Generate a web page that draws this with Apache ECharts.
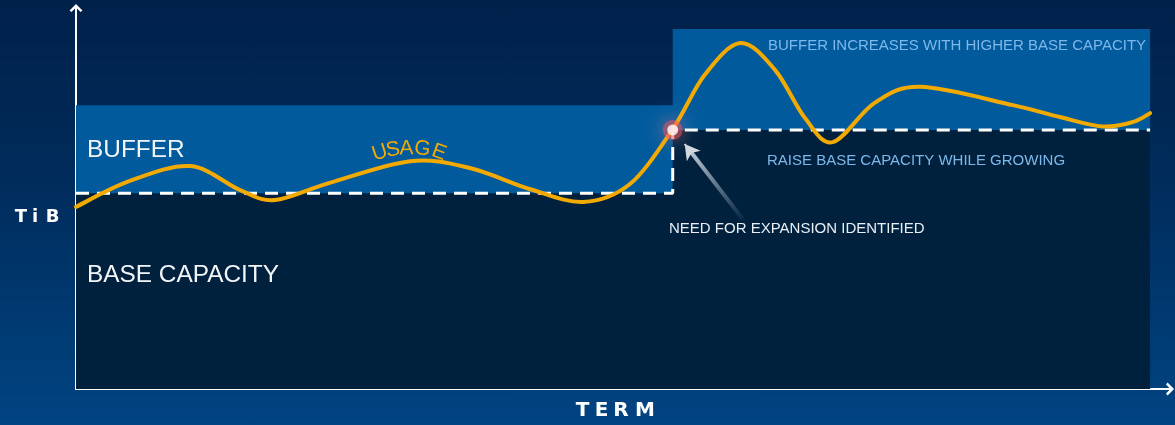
<!DOCTYPE html>
<html>
<head>
<meta charset="utf-8">
<script src="https://cdn.jsdelivr.net/npm/echarts@6/dist/echarts.min.js"></script>
<style>
  html, body { margin: 0; padding: 0; }
  #chart { width: 1175px; height: 425px;
    background: linear-gradient(to bottom, #00214a 0%, #002b5a 40%, #004482 100%); }
</style>
</head>
<body>
<div id="chart"></div>
<script>
// ---- data ----
const usageTerm  = [0, 5.4, 11.5, 16.5, 20.0, 25.5, 33.6, 39.6, 45.6, 51.0, 55.7, 60, 63.2, 66.8, 70.3, 73.3, 76.1, 80.3, 84.9, 94.2, 98.9, 103.2, 106.3, 108];
const usageTiB   = [47.8, 54.6, 58.5, 52.2, 49.6, 54.1, 59.8, 58.0, 52.5, 49.1, 53.8, 68.2, 82.4, 90.8, 83.7, 71.1, 64.8, 75.1, 79.3, 74.5, 71.4, 68.9, 70.1, 72.4];
const stepTerm   = [0, 60, 60, 108];
const baseTiB    = [51.4, 51.4, 68.0, 68.0];
const bufferTiB  = [74.5, 74.5, 94.5, 94.5];
const expansionPoint = [60, 68.0];
const arrowTail  = [67.1, 44.4];
const arrowShaftEnd = [61.5, 63.3];
const arrowHeadStart = [61.9, 61.9];
const arrowHeadEnd = [61.2, 64.3];
const xMax = 110, yMax = 100;

const pairs = (xs, ys) => xs.map((x, i) => [x, ys[i]]);

const chart = echarts.init(document.getElementById('chart'), null, { renderer: 'canvas' });
const arrowPath = 'path://M0,10 L10,0 L20,10 L17,12.5 L10,5.5 L3,12.5 Z';
const axisCommon = {
  type: 'value',
  axisLine: { show: true, lineStyle: { color: '#ffffff', width: 2 }, symbol: ['none', arrowPath], symbolSize: [13, 9] },
  axisTick: { show: false },
  axisLabel: { show: false },
  splitLine: { show: false }
};
const font = 'Liberation Sans, Arial, sans-serif';
const boldFont = 'DejaVu Sans, sans-serif';

function letter(ch, x, y, size, color, family, weight, rot) {
  return { type: 'text', x: x, y: y, rotation: (rot || 0) * Math.PI / 180,
    style: { text: ch, fill: color, font: (weight || 'normal') + ' ' + size + 'px ' + family, textAlign: 'center', textVerticalAlign: 'middle' }, z: 100 };
}
function label(txt, x, y, size, color) {
  return { type: 'text', x: x, y: y,
    style: { text: txt, fill: color, font: 'normal ' + size + 'px ' + font, textAlign: 'left', textVerticalAlign: 'middle' }, z: 100 };
}

// smooth curve (Catmull-Rom) through the usage points, positioned via the chart's axes
function renderUsage(params, api) {
  const p = usageTerm.map((x, i) => api.coord([x, usageTiB[i]]));
  const n = p.length;
  let d = 'M' + p[0][0] + ',' + p[0][1];
  for (let i = 0; i < n - 1; i++) {
    const p0 = p[Math.max(i - 1, 0)], p1 = p[i], p2 = p[i + 1], p3 = p[Math.min(i + 2, n - 1)];
    const c1x = p1[0] + (p2[0] - p0[0]) / 6, c1y = p1[1] + (p2[1] - p0[1]) / 6;
    const c2x = p2[0] - (p3[0] - p1[0]) / 6, c2y = p2[1] - (p3[1] - p1[1]) / 6;
    d += ' C' + c1x + ',' + c1y + ' ' + c2x + ',' + c2y + ' ' + p2[0] + ',' + p2[1];
  }
  return { type: 'path', shape: { pathData: d },
    style: { fill: 'none', stroke: '#f3aa00', lineWidth: 4, lineJoin: 'round', lineCap: 'round' } };
}

const option = {
  backgroundColor: 'transparent',
  animation: false,
  grid: { left: 76, right: 5, top: 8, bottom: 36, containLabel: false },
  xAxis: Object.assign({}, axisCommon, { min: 0, max: xMax }),
  yAxis: Object.assign({}, axisCommon, { min: 0, max: yMax }),
  series: [
    { type: 'line', data: pairs(stepTerm, bufferTiB), symbol: 'none', silent: true,
      lineStyle: { width: 0, opacity: 0 }, areaStyle: { color: '#005a9c', opacity: 1 }, z: 1 },
    { type: 'line', data: pairs(stepTerm, baseTiB), symbol: 'none', silent: true,
      lineStyle: { width: 3, color: '#ffffff', type: [13, 8] }, areaStyle: { color: '#00213e', opacity: 1 }, z: 2 },
    { type: 'custom', coordinateSystem: 'cartesian2d', data: [[usageTerm[0], usageTiB[0]]],
      renderItem: renderUsage, silent: true, clip: false, z: 5 },
    { type: 'scatter', data: [expansionPoint], symbol: 'circle', symbolSize: 20, silent: true,
      itemStyle: { color: 'rgba(255,90,90,0.6)', shadowBlur: 24, shadowColor: 'rgba(215,228,255,0.9)' }, z: 6 },
    { type: 'scatter', data: [expansionPoint], symbol: 'circle', symbolSize: 11, silent: true,
      itemStyle: { color: '#ffffff', shadowBlur: 16, shadowColor: 'rgba(255,40,40,1)' }, z: 7,
      markLine: {
        silent: true, animation: false,
        label: { show: false },
        emphasis: { disabled: true },
        data: [
          [ { coord: arrowTail, symbol: 'none',
              lineStyle: { width: 4, type: 'solid',
                color: new echarts.graphic.LinearGradient(1, 1, 0, 0, [
                  { offset: 0, color: 'rgba(190,200,212,0)' },
                  { offset: 1, color: 'rgba(210,218,228,1)' } ]) } },
            { coord: arrowShaftEnd, symbol: 'none' } ],
          [ { coord: arrowHeadStart, symbol: 'none', lineStyle: { width: 2, type: 'solid', color: '#d2d9e0' } },
            { coord: arrowHeadEnd, symbol: 'arrow', symbolSize: [13, 15] } ]
        ]
      } }
  ],
  graphic: [
    label('BUFFER', 87, 150, 24.4, '#f2f5f8'),
    label('BASE CAPACITY', 87, 275, 24.4, '#f2f5f8'),
    label('BUFFER INCREASES WITH HIGHER BASE CAPACITY', 768, 46, 15, '#7db8ea'),
    label('RAISE BASE CAPACITY WHILE GROWING', 767, 161, 15, '#7db8ea'),
    label('NEED FOR EXPANSION IDENTIFIED', 669, 229, 15, '#e8eef4'),
    letter('U', 380, 153, 21, '#f3aa00', font, 'normal', 18),
    letter('S', 393, 150, 21, '#f3aa00', font, 'normal', 9),
    letter('A', 406.5, 148.5, 21, '#f3aa00', font, 'normal', 1),
    letter('G', 422.5, 149, 21, '#f3aa00', font, 'normal', -8),
    letter('E', 439, 152.5, 21, '#f3aa00', font, 'normal', -20),
    letter('T', 21, 217, 18, '#ffffff', boldFont, 'bold'),
    letter('i', 35, 217, 18, '#ffffff', boldFont, 'bold'),
    letter('B', 52.5, 217, 18, '#ffffff', boldFont, 'bold'),
    letter('T', 582.5, 411, 20, '#ffffff', boldFont, 'bold'),
    letter('E', 601.5, 411, 20, '#ffffff', boldFont, 'bold'),
    letter('R', 621, 411, 20, '#ffffff', boldFont, 'bold'),
    letter('M', 645, 411, 20, '#ffffff', boldFont, 'bold')
  ]
};
chart.setOption(option);
</script>
</body>
</html>
